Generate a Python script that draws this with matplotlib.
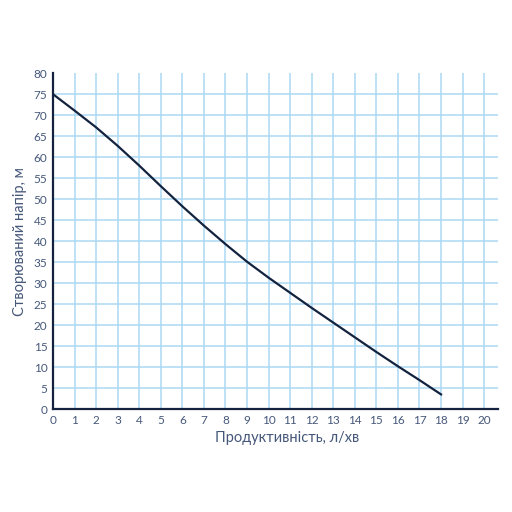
import matplotlib.pyplot as plt

# Pump curve: flow (l/min) vs head (m)
flow = [0, 1, 2, 3, 4, 5, 6, 7, 8, 9, 10, 11, 12, 13, 14, 15, 16, 17, 18]
head = [75, 71.1, 67.1, 62.7, 58.0, 53.1, 48.3, 43.7, 39.3, 35.1, 31.3, 27.7, 24.1,
        20.6, 17.1, 13.6, 10.2, 6.9, 3.5]

x_ticks = list(range(0, 21))
y_ticks = list(range(0, 81, 5))

NAVY = "#13233f"
TEXT = "#46587a"
GRID = "#acd8f3"

plt.rcParams["font.family"] = ["Lato", "DejaVu Sans"]

fig = plt.figure(figsize=(5.12, 5.12), dpi=100)
ax = fig.add_axes([0.1035, 0.201, 0.8695, 0.656])

ax.plot(flow, head, color=NAVY, linewidth=1.6, zorder=3)

ax.set_xlim(0, 20.65)
ax.set_ylim(0, 80)
ax.set_xticks(x_ticks)
ax.set_yticks(y_ticks)
ax.tick_params(length=0, labelsize=8.5, colors=TEXT, pad=4)

# light blue grid, no line along the top (80) level
ax.grid(True, color=GRID, linewidth=1.1, zorder=0)
ax.yaxis.get_gridlines()[-1].set_visible(False)

for side in ["top", "right"]:
    ax.spines[side].set_visible(False)
for side in ["left", "bottom"]:
    ax.spines[side].set_color(NAVY)
    ax.spines[side].set_linewidth(1.6)

ax.set_xlabel("Продуктивність, л/хв", fontsize=10.5, color=TEXT)
ax.xaxis.set_label_coords(0.525, -0.065)
ax.set_ylabel("Створюваний напір, м", fontsize=10.5, color=TEXT)
ax.yaxis.set_label_coords(-0.058, 0.5)

fig.savefig("out.png", dpi=100)
